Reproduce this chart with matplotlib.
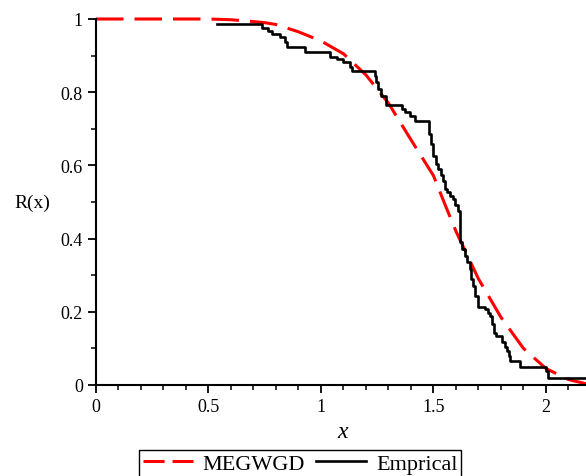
import matplotlib
matplotlib.use("Agg")
import matplotlib.pyplot as plt
from matplotlib.lines import Line2D
from matplotlib.ticker import MultipleLocator, FuncFormatter

plt.rcParams['font.family'] = ['Liberation Serif', 'DejaVu Serif']

# fitted MEGWGD reliability curve
fit_x = [0.0, 0.5, 0.6, 0.7, 0.75, 0.8, 0.9, 1.0, 1.1, 1.2, 1.3, 1.4, 1.5,
         1.55, 1.6, 1.7, 1.8, 1.9, 2.0, 2.1, 2.18]
fit_r = [1.0, 1.0, 0.998, 0.993, 0.99, 0.985, 0.965, 0.94, 0.905, 0.847, 0.77,
         0.67, 0.572, 0.495, 0.42, 0.29, 0.185, 0.10, 0.045, 0.015, 0.003]

# empirical reliability (step function)
emp_x = [0.54, 0.738, 0.764, 0.782, 0.818, 0.84, 0.849, 0.929, 1.04, 1.071,
         1.098, 1.129, 1.138, 1.24, 1.244, 1.253, 1.267, 1.289, 1.36, 1.373,
         1.396, 1.418, 1.48, 1.489, 1.498, 1.511, 1.52, 1.533, 1.542, 1.551,
         1.56, 1.573, 1.587, 1.596, 1.609, 1.618, 1.627, 1.64, 1.649, 1.662,
         1.667, 1.676, 1.684, 1.698, 1.729, 1.742, 1.751, 1.76, 1.769, 1.778,
         1.804, 1.818, 1.827, 1.836, 1.84, 1.884, 2.0, 2.009, 2.178]
emp_r = [0.986, 0.975, 0.968, 0.959, 0.950, 0.936, 0.924, 0.911, 0.895, 0.891,
         0.883, 0.869, 0.859, 0.844, 0.828, 0.809, 0.790, 0.765, 0.754, 0.746,
         0.735, 0.721, 0.686, 0.658, 0.626, 0.604, 0.590, 0.574, 0.557, 0.536,
         0.527, 0.516, 0.508, 0.492, 0.475, 0.391, 0.372, 0.352, 0.336, 0.317,
         0.29, 0.270, 0.243, 0.213, 0.208, 0.197, 0.189, 0.167, 0.142, 0.134,
         0.117, 0.104, 0.093, 0.079, 0.066, 0.049, 0.038, 0.018, 0.018]

fig = plt.figure(figsize=(5.86, 4.77), dpi=100)
ax = fig.add_axes([96 / 586, 91 / 477, 490 / 586, 366 / 477])

ax.plot(fit_x, fit_r, color='#ff0000', lw=2.2, dashes=(9, 3.6), clip_on=False)
ax.step(emp_x, emp_r, where='post', color='black', lw=1.9, clip_on=False)

ax.set_xlim(0, 2.178)
ax.set_ylim(0, 1)
for s in ['top', 'right']:
    ax.spines[s].set_visible(False)
for s in ['left', 'bottom']:
    ax.spines[s].set_linewidth(1.5)

ax.xaxis.set_major_locator(MultipleLocator(0.5))
ax.xaxis.set_minor_locator(MultipleLocator(0.1))
ax.yaxis.set_major_locator(MultipleLocator(0.2))
ax.yaxis.set_minor_locator(MultipleLocator(0.1))
fmt = FuncFormatter(lambda v, p: f'{v:g}')
ax.xaxis.set_major_formatter(fmt)
ax.yaxis.set_major_formatter(fmt)
ax.tick_params(which='major', length=6, width=1.3, labelsize=13)
ax.tick_params(which='minor', length=3.5, width=1.1)

ax.set_xlabel('x', fontsize=17, style='italic', va='center')
ax.xaxis.set_label_coords(0.504, -0.126)
ax.set_ylabel('R(x)', fontsize=14, rotation=0, ha='center', va='center')
ax.yaxis.set_label_coords(-0.1306, 0.5)

# legend handles (Maple draws shorter dashes in the key)
h_fit = Line2D([], [], color='#ff0000', lw=2.2, dashes=(6.9, 2.6))
h_emp = Line2D([], [], color='black', lw=1.9)
fig.legend(handles=[h_fit, h_emp], labels=['MEGWGD', 'Emprical'],
           loc='upper center', ncol=2,
           bbox_to_anchor=(300 / 586, 1 - 451 / 477), fontsize=16,
           frameon=True, fancybox=False, edgecolor='black', framealpha=1,
           handlelength=2.25, columnspacing=0.5, handletextpad=0.45,
           borderpad=0.15, borderaxespad=0)

fig.savefig('out.png', dpi=100)
